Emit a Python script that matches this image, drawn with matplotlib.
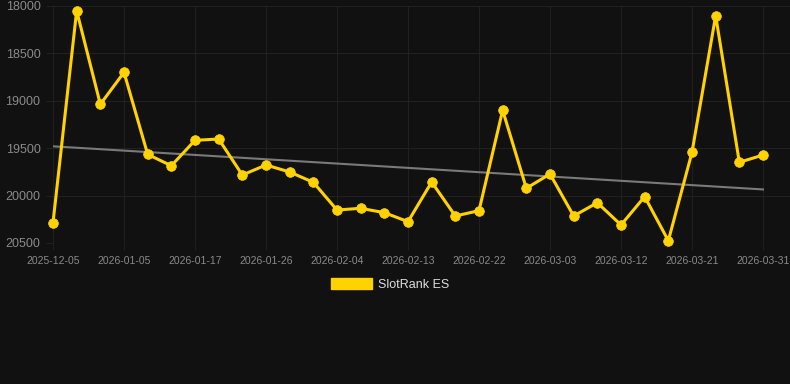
import numpy as np
import matplotlib.pyplot as plt
from matplotlib.patches import Patch

plt.rcParams['font.family'] = ['Liberation Sans', 'DejaVu Sans']

dates = ["2025-12-05", "2025-12-15", "2025-12-25", "2026-01-05", "2026-01-09",
         "2026-01-13", "2026-01-17", "2026-01-20", "2026-01-23", "2026-01-26",
         "2026-01-29", "2026-02-01", "2026-02-04", "2026-02-07", "2026-02-10",
         "2026-02-13", "2026-02-16", "2026-02-19", "2026-02-22", "2026-02-25",
         "2026-02-28", "2026-03-03", "2026-03-06", "2026-03-09", "2026-03-12",
         "2026-03-15", "2026-03-18", "2026-03-21", "2026-03-24", "2026-03-27",
         "2026-03-31"]
rank = [20286, 18050, 19037, 18700, 19565, 19685, 19417, 19403, 19783, 19677,
        19751, 19860, 20152, 20134, 20180, 20275, 19857, 20215, 20159, 19100,
        19923, 19772, 20215, 20075, 20310, 20011, 20476, 19543, 18102, 19649,
        19572]
series_name = "SlotRank ES"

bg = "#111111"
gold = "#FFD200"

fig = plt.figure(figsize=(7.9, 3.84), dpi=100, facecolor=bg)
ax = fig.add_axes([53/790, 1 - 243/384, 737/790, 237/384], facecolor=bg)

x = np.arange(len(rank))
# linear trend over the series
k, b = np.polyfit(x, rank, 1)
ax.plot(x, k*x + b, color="#7a7a7a", lw=1.5, zorder=2)

ax.plot(x, rank, color=gold, lw=2.2, marker="o", ms=7, mew=0.5, zorder=3, clip_on=False)

ax.set_ylim(20500, 18000)
ax.set_yticks([18000, 18500, 19000, 19500, 20000, 20500])
ax.set_xlim(0, 30 + 27/23.67)
ax.set_xticks(x[::3])
ax.set_xticklabels(dates[::3])

ax.grid(True, color="#202020", lw=0.8)
ax.set_axisbelow(True)
for s in ax.spines.values():
    s.set_visible(False)
ax.tick_params(axis="both", colors="#202020", length=5, labelcolor="#8a8a8a")
ax.tick_params(axis="y", labelsize=9, pad=4)
ax.tick_params(axis="x", labelsize=7.5, pad=4)

leg = fig.legend(handles=[Patch(facecolor=gold, edgecolor=gold, label=series_name)],
                 loc="center", bbox_to_anchor=(390/790, 1 - 284.5/384),
                 frameon=False, fontsize=9, handlelength=3.3, handleheight=1.0,
                 handletextpad=0.5)
for t in leg.get_texts():
    t.set_color("#dddddd")

fig.savefig("out.png", dpi=100, facecolor=bg)
